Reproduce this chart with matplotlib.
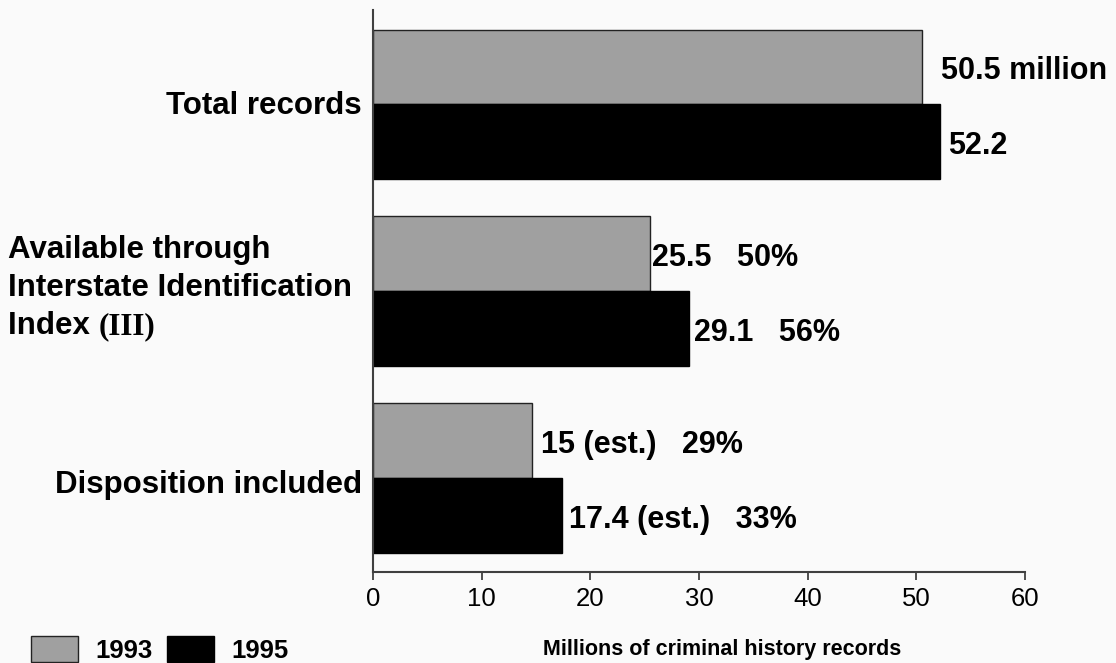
import numpy as np
import matplotlib.pyplot as plt

# data (millions of records)
categories = ['Total records', 'Available through Interstate Identification Index (III)',
              'Disposition included']
values_1993 = [50.5, 25.5, 14.6]
values_1995 = [52.2, 29.1, 17.4]
labels_1993 = ['50.5 million', '25.5   50%', '15 (est.)   29%']
labels_1995 = ['52.2', '29.1   56%', '17.4 (est.)   33%']
years = ['1993', '1995']

# label offsets (points) to the right of each bar end
off_1993 = [14, 1.5, 6.5]
off_1995 = [6, 3.5, 5]

bg = '#fafafa'
gray = '#a0a0a0'
narrow = ['Liberation Sans Narrow', 'DejaVu Sans Condensed', 'Liberation Sans']
sans = ['Liberation Sans', 'DejaVu Sans']

fig = plt.figure(figsize=(11.16, 6.63), dpi=100, facecolor=bg)
ax = fig.add_axes([373 / 1116, 1 - 572 / 663, (1025 - 373) / 1116, (572 - 10) / 663])
ax.set_facecolor(bg)

y = np.arange(len(categories))
h = 0.4
b93 = ax.barh(y - h / 2, values_1993, height=h, color=gray, edgecolor='#222222', linewidth=1)
b95 = ax.barh(y + h / 2, values_1995, height=h, color='black', edgecolor='black', linewidth=1)

ax.set_xlim(0, 60)
ax.set_ylim(2.503, -0.505)
ax.set_xticks(np.arange(0, 61, 10))
ax.set_yticks([])
for lab in ax.get_xticklabels():
    lab.set_family(narrow)
    lab.set_fontsize(18.5)
ax.tick_params(axis='x', length=6, width=1.3, color='#404040', pad=5)

for s in ['top', 'right']:
    ax.spines[s].set_visible(False)
for s in ['left', 'bottom']:
    ax.spines[s].set_color('#404040')
    ax.spines[s].set_linewidth(1.5)

# value labels
for i in range(len(categories)):
    ax.annotate(labels_1993[i], xy=(values_1993[i], y[i] - h / 2), xytext=(off_1993[i], -3),
                textcoords='offset points', va='center', ha='left',
                fontsize=22, fontweight='bold', family=sans)
    ax.annotate(labels_1995[i], xy=(values_1995[i], y[i] + h / 2), xytext=(off_1995[i], -3),
                textcoords='offset points', va='center', ha='left',
                fontsize=22, fontweight='bold', family=sans)

# category labels
ax.annotate(categories[0], xy=(0, y[0]), xytext=(-8, -1), textcoords='offset points',
            ha='right', va='center', fontsize=22.5, fontweight='bold', family=sans)
ax.annotate(categories[2], xy=(0, y[2]), xytext=(-8, -5), textcoords='offset points',
            ha='right', va='center', fontsize=22.5, fontweight='bold', family=sans)

mid_lines = ['Available through', 'Interstate Identification', 'Index ']
dx = -(373 - 8) * 0.72
last = None
for k, line in enumerate(mid_lines):
    last = ax.annotate(line, xy=(0, y[1]), xytext=(dx, (1 - k) * 27.4 + 2),
                       textcoords='offset points', ha='left', va='center',
                       fontsize=22.5, fontweight='bold', family=sans)
ax.annotate('(III)', xy=(1, 0), xycoords=last, xytext=(0, 0), textcoords='offset points',
            ha='left', va='bottom', fontsize=22.5, fontweight='bold',
            family=['Liberation Serif', 'DejaVu Serif'])

ax.text((722 - 373) / 652, -(650 - 572) / 562, 'Millions of criminal history records',
        transform=ax.transAxes, ha='center', va='center', fontsize=15.5,
        fontweight='bold', family=narrow)

fig.legend([b93, b95], years, loc='lower left', bbox_to_anchor=(31 / 1116, 0.0),
           ncol=2, frameon=False, prop={'family': sans, 'weight': 'bold', 'size': 18.5},
           handlelength=1.83, handleheight=1.2, handletextpad=0.66, columnspacing=0.58,
           borderpad=0, borderaxespad=0)

fig.savefig('out.png', dpi=100, facecolor=bg)
